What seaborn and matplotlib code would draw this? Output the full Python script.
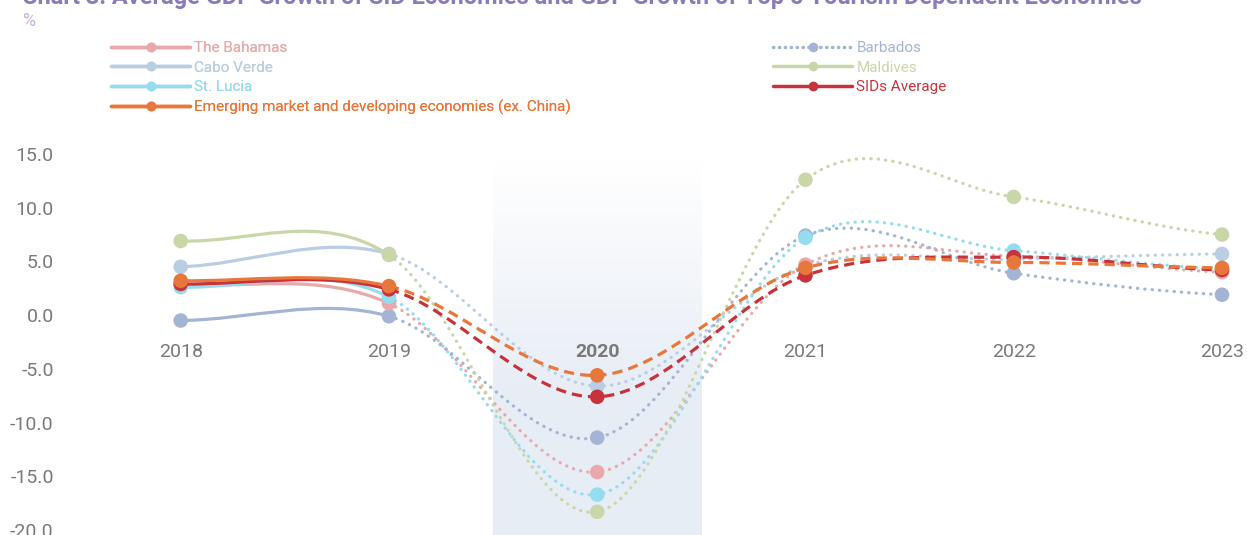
import numpy as np
import pandas as pd
import matplotlib.pyplot as plt
from matplotlib.path import Path
from matplotlib.patches import PathPatch
from matplotlib.lines import Line2D
import seaborn as sns

years = [2018, 2019, 2020, 2021, 2022, 2023]
bahamas = [2.8, 1.1, -14.6, 4.7, 5.5, 4.0]
cabo_verde = [4.5, 5.7, -6.6, 4.6, 5.2, 5.7]
st_lucia = [2.6, 1.7, -16.7, 7.2, 6.0, 4.3]
barbados = [-0.5, -0.1, -11.4, 7.4, 3.9, 1.9]
maldives = [6.9, 5.6, -18.3, 12.6, 11.0, 7.5]
sids_avg = [2.9, 2.4, -7.6, 3.7, 5.4, 4.2]
emde = [3.2, 2.7, -5.6, 4.4, 4.9, 4.4]

names = ["The Bahamas", "Cabo Verde", "St. Lucia", "Barbados", "Maldives",
         "SIDs Average", "Emerging market and developing economies (ex. China)"]
values = [bahamas, cabo_verde, st_lucia, barbados, maldives, sids_avg, emde]
colors = ["#e9a9ab", "#b9cde3", "#95dcee", "#a4b4d4", "#c9d6a8", "#c7323b", "#e8773b"]
palette = dict(zip(names, colors))

# drawing order for the markers (last one on top)
draw_order = [3, 1, 4, 0, 2, 5, 6]
df = pd.DataFrame({
    "year": np.tile(years, len(draw_order)),
    "growth": np.concatenate([values[i] for i in draw_order]),
    "series": np.repeat([names[i] for i in draw_order], len(years)),
})


def spline_path(x, y, start, stop):
    # cubic bezier pieces with catmull-rom tangents, between point index start..stop
    x = np.asarray(x, float)
    y = np.asarray(y, float)
    n = len(x)
    m = np.zeros(n)
    for i in range(n):
        if i == 0:
            m[i] = 0.5 * (y[1] - y[0]) / (x[1] - x[0])
        elif i == n - 1:
            m[i] = 0.5 * (y[-1] - y[-2]) / (x[-1] - x[-2])
        else:
            m[i] = (y[i + 1] - y[i - 1]) / (x[i + 1] - x[i - 1])
    verts = [(x[start], y[start])]
    codes = [Path.MOVETO]
    for i in range(start, stop):
        h = x[i + 1] - x[i]
        verts += [(x[i] + h / 3, y[i] + m[i] * h / 3),
                  (x[i + 1] - h / 3, y[i + 1] - m[i + 1] * h / 3),
                  (x[i + 1], y[i + 1])]
        codes += [Path.CURVE4] * 3
    return Path(verts, codes)


sns.set_theme(style="white")
plt.rcParams["font.family"] = ["Roboto", "DejaVu Sans"]

fig = plt.figure(figsize=(12.47, 5.35), dpi=100)
ax = fig.add_axes([62 / 1247, 0, 1 - 62 / 1247, 395 / 535])
ax.set_xlim(2017.43, 2023.12)
ax.set_ylim(-20.46, 16.3)

# shaded 2020 band, fading out towards the top
grad = np.ones((200, 1, 4))
grad[:, 0, :3] = [0.905, 0.928, 0.962]
t = np.linspace(0, 1, 200)
grad[:, 0, 3] = np.clip(t * 1.6, 0, 1) * 0.95
ax.imshow(grad[::-1], extent=[2019.5, 2020.5, -20.46, 14.5], aspect="auto",
          origin="lower", zorder=0)

for name, vals, col in zip(names, values, colors):
    avg = name in ("SIDs Average", names[-1])
    z = 3 if avg else 2
    ax.add_patch(PathPatch(spline_path(years, vals, 0, 1), fill=False, edgecolor=col,
                           lw=2.3, capstyle="round", zorder=z))
    if avg:
        ls = (0, (3.2, 1.9))
        cap = "butt"
    else:
        ls = (0, (0.1, 2.2))
        cap = "round"
    ax.add_patch(PathPatch(spline_path(years, vals, 1, len(years) - 1), fill=False,
                           edgecolor=col, lw=2.3, linestyle=ls, capstyle=cap, zorder=z))

sns.scatterplot(data=df, x="year", y="growth", hue="series", palette=palette,
                s=110, linewidth=0, legend=False, ax=ax, zorder=5)

for s in ax.spines.values():
    s.set_visible(False)
ax.spines["bottom"].set_position(("data", 0))
ax.set_xticks(years)
ax.set_xticklabels([str(y) for y in years])
yt = [15, 10, 5, 0, -5, -10, -15, -20]
ax.set_yticks(yt)
ax.set_yticklabels([f"{v:.1f}" for v in yt])
ax.tick_params(axis="x", length=0, pad=20, labelsize=14, labelcolor="#7a7a7a")
ax.tick_params(axis="y", length=0, pad=6, labelsize=14, labelcolor="#7a7a7a")
ax.get_xticklabels()[2].set_fontweight("bold")
ax.set_xlabel("")
ax.set_ylabel("")
ax.grid(False)


def handle(col, dotted=False):
    return Line2D([], [], color=col, lw=2.5, marker="o", markersize=6,
                  linestyle=(0, (0.1, 1.6)) if dotted else "-",
                  dash_capstyle="round")


left = [0, 1, 2, 6]
right = [3, 4, 5]
leg_kw = dict(loc="upper left", frameon=False, fontsize=11, handlelength=5.2,
              handletextpad=0.25, labelspacing=0.36, labelcolor="linecolor",
              borderaxespad=0, borderpad=0)
leg1 = fig.legend([handle(colors[i]) for i in left], [names[i] for i in left],
                  bbox_to_anchor=(111 / 1247, 1 - 41 / 535), **leg_kw)
leg2 = fig.legend([handle(colors[i], i == 3) for i in right], [names[i] for i in right],
                  bbox_to_anchor=(773 / 1247, 1 - 41 / 535), **leg_kw)
fig.add_artist(leg1)

fig.text(22 / 1247, 1 - 4 / 535,
         "Chart 3: Average GDP Growth of SID Economies and GDP Growth of Top 5 Tourism Dependent Economies",
         fontsize=17, fontweight="bold", color="#8b7bb9", va="baseline", ha="left")
fig.text(22 / 1247, 1 - 21 / 535, "%", fontsize=13, color="#c7b5da", va="center", ha="left")

fig.savefig("out.png", dpi=100)
